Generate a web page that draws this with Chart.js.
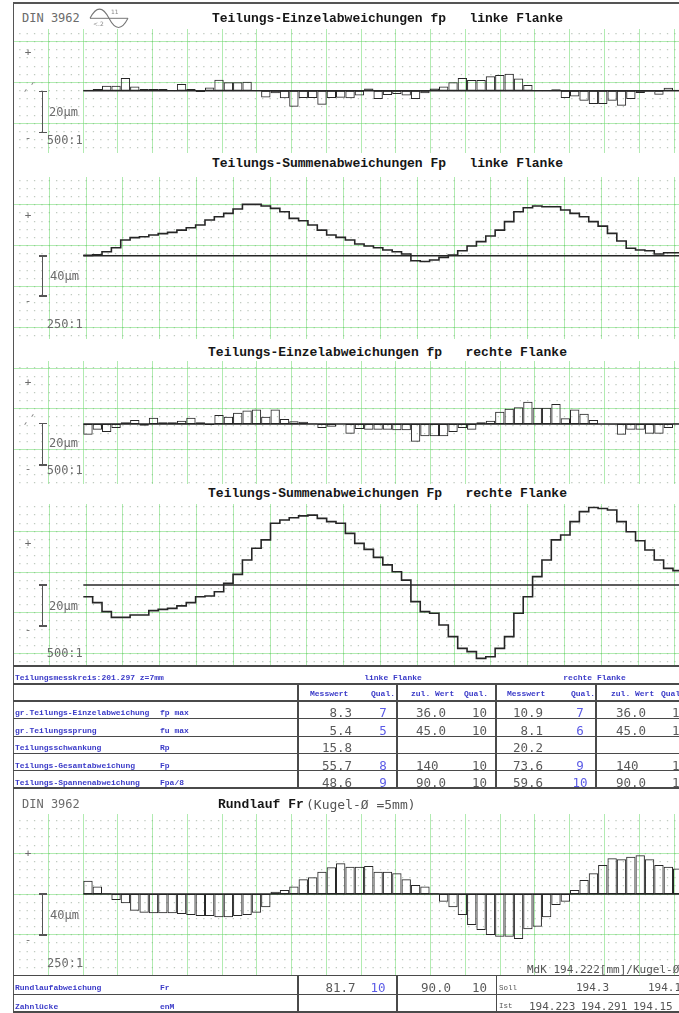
<!DOCTYPE html>
<html lang="de">
<head>
<meta charset="utf-8">
<title>Teilungsmessung DIN 3962</title>
<script src="https://cdn.jsdelivr.net/npm/chart.js@4.4.1/dist/chart.umd.min.js"></script>
<style>
  html, body { margin: 0; padding: 0; background: #fff; }
  body { position: relative; width: 679px; height: 1013px; overflow: hidden; }
  .t { position: absolute; white-space: pre; line-height: 1; }
  .title { font: bold 13px "Liberation Mono", monospace; color: #161616; }
  .gray { font: 12px "DejaVu Sans Mono", monospace; color: #6b6b6b; }
  .sign { font: 11px "DejaVu Sans Mono", monospace; color: #6b6b6b; }
  .lbl { font: bold 8px "Liberation Mono", monospace; color: #3a3ac8; }
  .num { font: 12.5px "DejaVu Sans Mono", monospace; color: #5a5a5a; }
  .q { font: 12.5px "DejaVu Sans Mono", monospace; color: #5b5be6; }
  .sm { font: 11px "DejaVu Sans Mono", monospace; color: #555; }
  .tiny { font: 7.5px "Liberation Mono", monospace; color: #555; }
  .sub { font: 13px "DejaVu Sans Mono", monospace; color: #555; }
  .ln { position: absolute; }
  .panel { position: absolute; }
</style>
</head>
<body>
<script>
// ---- measured values, one entry per tooth (µm) ----
const singlePitchLeft = [
  0.5, 0.8, 2.4, 2.4, 6.2, 2.0, 0.8, 0.8, 0.8, 0.3,
  3.3, 0.8, -0.6, 1.6, 5.4, 4.1, 4.1, 4.4, 0.2, -3.3,
  -1.3, -3.7, -7.8, -3.6, -3.6, -6.8, -3.6, -3.4, -3.7, -2.4,
  1.1, -4.1, -2.1, -1.6, -2.4, -4.1, -1.3, 1.1, 2.1, 4.1,
  6.2, 5.2, 5.2, 7.0, 7.6, 8.3, 6.0, 2.8, -0.2, 0.0,
  0.7, -3.6, -2.8, -4.9, -6.5, -6.5, -4.9, -7.3, -4.1, -1.1,
  -0.5, -2.0, 1.5, 0.5
];
const cumPitchLeft = [
  0.3, 1.0, 3.9, 7.8, 15.3, 17.6, 18.5, 20.2, 21.5, 22.8,
  25.0, 27.3, 29.9, 34.8, 38.0, 41.3, 45.5, 50.1, 50.1, 48.5,
  46.2, 42.9, 36.4, 34.1, 29.9, 25.0, 20.2, 17.9, 15.3, 11.4,
  9.4, 7.8, 5.5, 3.9, 1.6, -4.9, -5.6, -4.2, -1.6, 0.7,
  4.9, 9.4, 13.7, 19.2, 25.0, 33.2, 42.9, 46.8, 48.5, 47.8,
  47.8, 44.6, 41.3, 38.0, 33.2, 28.9, 21.8, 14.3, 7.2, 5.5,
  4.9, 1.6, 2.9, 2.9
];
const singlePitchRight = [
  -5.2, -2.8, -3.9, -1.9, 0.8, 2.0, -0.8, 3.1, 0.8, 0.8,
  1.6, 3.1, 0.8, -0.5, 4.4, 3.5, 5.5, 6.6, 7.1, 3.5,
  7.1, 2.4, 1.3, 1.1, 0.3, -1.9, -1.3, 0.0, -4.7, -2.4,
  -2.8, -2.8, -2.8, -3.1, -3.1, -8.6, -6.0, -6.0, -6.0, -3.9,
  -1.9, -2.8, 0.9, 1.6, 6.0, 7.4, 8.2, 10.9, 7.9, 7.9,
  9.7, 2.8, 7.1, 5.0, 1.9, 0.0, -0.3, -5.2, -2.8, -2.8,
  -4.7, -4.7, -1.9, 0.3
];
const cumPitchRight = [
  -5.7, -8.6, -13.0, -15.8, -15.8, -14.6, -14.6, -12.5, -11.9, -11.4,
  -10.2, -8.6, -5.7, -5.4, -3.3, 0.8, 5.2, 12.2, 17.9, 22.0,
  30.1, 31.7, 32.8, 33.7, 34.1, 32.5, 30.9, 30.1, 25.2, 20.3,
  17.4, 13.5, 9.8, 6.5, 2.4, -8.1, -13.0, -13.8, -19.5, -25.2,
  -30.9, -32.5, -35.8, -35.0, -30.9, -25.2, -13.8, -5.7, 4.1, 12.2,
  22.0, 24.4, 30.9, 35.8, 37.8, 37.3, 36.6, 30.9, 26.0, 21.6,
  17.1, 12.2, 8.1, 7.0
];
const runout = [
  13.0, 7.2, 0.7, -5.9, -9.1, -16.3, -18.2, -18.9, -18.9, -18.9,
  -19.5, -20.5, -21.5, -21.5, -22.8, -22.8, -21.5, -20.5, -18.2, -13.0,
  2.3, 3.9, 7.2, 14.3, 16.3, 21.8, 26.0, 29.9, 26.7, 26.7,
  27.3, 21.8, 21.8, 20.2, 14.3, 8.8, 7.2, 0.7, -7.5, -13.0,
  -20.5, -30.2, -35.1, -40.0, -41.6, -41.6, -43.9, -34.5, -31.9, -22.8,
  -10.7, -7.5, 3.9, 13.7, 20.2, 28.3, 34.8, 33.8, 36.4, 37.8,
  33.8, 28.3, 26.7, 25.0
];

// ---- evaluation table ----
const rowNames = ['gr.Teilungs-Einzelabweichung', 'gr.Teilungssprung', 'Teilungsschwankung',
                  'Teilungs-Gesamtabweichung', 'Teilungs-Spannenabweichung'];
const rowSymbols = ['fp max', 'fu max', 'Rp', 'Fp', 'Fpa/8'];
const leftMeasured = ['8.3', '5.4', '15.8', '55.7', '48.6'];
const leftQuality = ['7', '5', '', '8', '9'];
const leftAllowed = ['36.0', '45.0', '', '140', '90.0'];
const leftAllowedQuality = ['10', '10', '', '10', '10'];
const rightMeasured = ['10.9', '8.1', '20.2', '73.6', '59.6'];
const rightQuality = ['7', '6', '', '9', '10'];
const rightAllowed = ['36.0', '45.0', '', '140', '90.0'];
const rightAllowedQuality = ['10', '10', '', '10', '10'];
const headerCells = ['Messwert', 'Qual.', 'zul. Wert', 'Qual.', 'Messwert', 'Qual.', 'zul. Wert', 'Qual.'];
const runoutCells = ['81.7', '10', '90.0', '10'];
const ballSoll = ['194.3', '194.14'];
const ballIst = ['194.223', '194.291', '194.15'];

// ---- page layout ----
const PAGE_W = 679;
const PLOT_L = 13, PLOT_R = 679;
const TOOTH0_X = 83.3, TOOTH_PITCH = 9.36;
const GRID = { x0: 12.5, dx: 36.8, dy: 40.8, sub: 5 };
const INK = '#262626';

function put(text, x, y, cls, align) {
  const d = document.createElement('div');
  d.className = 't ' + cls;
  d.textContent = text;
  d.style.top = y + 'px';
  if (align === 'r') { d.style.right = (PAGE_W - x) + 'px'; d.style.transform = 'translateY(-50%)'; }
  else if (align === 'c') { d.style.left = x + 'px'; d.style.transform = 'translate(-50%,-50%)'; }
  else { d.style.left = x + 'px'; d.style.transform = 'translateY(-50%)'; }
  document.body.appendChild(d);
}
function box(x, y, w, h, c) {
  const d = document.createElement('div');
  d.className = 'ln';
  Object.assign(d.style, { left: x + 'px', top: y + 'px', width: w + 'px', height: h + 'px', background: c });
  document.body.appendChild(d);
  return d;
}
const hline = (x1, x2, y, w = 1, c = '#4a4a4a') => box(x1, y - w / 2, x2 - x1, w, c);
const vline = (x, y1, y2, w = 1, c = '#4a4a4a') => box(x - w / 2, y1, w, y2 - y1, c);
function scaleBar(y1, y2) {
  vline(42.7, y1, y2, 1.5, '#555');
  hline(39.3, 46.7, y1, 1.5, '#555');
  hline(39.3, 46.7, y2, 1.5, '#555');
}
function tick(x, y) {
  const d = box(x - 1.5, y, 3, 1, '#8a8a8a');
  d.style.transform = 'rotate(-55deg)';
}
function seq(start, step, lo, hi) {
  const out = [];
  for (let k = Math.ceil((lo - start) / step - 1e-9); ; k++) {
    const v = start + k * step;
    if (v > hi + 1e-9) break;
    out.push(v);
  }
  return out;
}

function gridAxis(axis, min, max, values, color, width, dash, dashOffset) {
  return {
    type: 'linear', axis, position: axis === 'x' ? 'bottom' : 'left',
    min, max, reverse: axis === 'y',
    ticks: { display: false },
    border: { display: false, dash: dash || [], dashOffset: dashOffset || 0 },
    grid: { color, lineWidth: width, drawTicks: false, tickLength: 0 },
    afterBuildTicks: s => { s.ticks = values.map(v => ({ value: v })); },
    afterFit: s => { if (axis === 'x') s.height = 0; else s.width = 0; }
  };
}

const barPoints = vals => vals.map((v, i) => ({ x: i + 0.5, y: v }));
const stepPoints = vals => vals.map((v, i) => ({ x: i, y: v })).concat([{ x: vals.length, y: vals[vals.length - 1] }]);
const zeroPoints = vals => [{ x: 0, y: 0 }, { x: vals.length, y: 0 }];

function drawPanel(p) {
  const W = PLOT_R - PLOT_L, H = p.bottom - p.top;
  const wrap = document.createElement('div');
  wrap.className = 'panel';
  Object.assign(wrap.style, { left: PLOT_L + 'px', top: p.top + 'px', width: W + 'px', height: H + 'px' });
  const cv = document.createElement('canvas');
  cv.width = W; cv.height = H;
  cv.style.width = W + 'px'; cv.style.height = H + 'px';
  wrap.appendChild(cv);
  document.body.appendChild(wrap);

  const subX = GRID.dx / GRID.sub, subY = GRID.dy / GRID.sub;
  const firstDot = (((GRID.x0 - PLOT_L) % subX) + subX) % subX;
  const dotLen = 1.3;

  const datasets = [];
  datasets.push({
    type: 'line', data: zeroPoints(p.values), borderColor: INK, borderWidth: 1.4,
    pointRadius: 0, fill: false, order: 0
  });
  if (p.kind === 'bar') {
    datasets.push({
      type: 'bar', data: barPoints(p.values), backgroundColor: 'rgba(255,255,255,0)',
      borderColor: INK, borderWidth: 1, borderSkipped: false, inflateAmount: 0,
      barThickness: TOOTH_PITCH, order: 1
    });
  } else {
    datasets.push({
      type: 'line', data: stepPoints(p.values), stepped: true, borderColor: INK,
      borderWidth: 1.6, pointRadius: 0, fill: false, order: 1
    });
  }

  new Chart(cv.getContext('2d'), {
    type: p.kind === 'bar' ? 'bar' : 'line',
    data: { datasets },
    options: {
      responsive: false, animation: false, devicePixelRatio: 1, events: [],
      layout: { padding: 0 },
      plugins: { legend: { display: false }, tooltip: { enabled: false } },
      scales: {
        x: {
          type: 'linear', display: false, offset: false,
          min: (PLOT_L - TOOTH0_X) / TOOTH_PITCH, max: (PLOT_R - TOOTH0_X) / TOOTH_PITCH
        },
        y: {
          type: 'linear', display: false,
          min: -(p.bottom - p.base) / p.pxPerUm, max: (p.base - p.top) / p.pxPerUm
        },
        dots: gridAxis('y', p.top, p.bottom, seq(p.gridY0, subY, p.top + 1, p.bottom - 1),
          'rgba(130,150,130,0.5)', 1.2, [dotLen, subX - dotLen], subX - (firstDot - dotLen / 2)),
        gx: gridAxis('x', PLOT_L, PLOT_R, seq(GRID.x0, GRID.dx, PLOT_L + 0.5, PLOT_R),
          'rgba(100,215,100,0.5)', 1),
        gy: gridAxis('y', p.top, p.bottom, seq(p.gridY0, GRID.dy, p.top, p.bottom),
          'rgba(100,215,100,0.5)', 1)
      }
    }
  });
}

const panels = [
  { top: 29, bottom: 153, base: 90.7, pxPerUm: 2.05, gridY0: 41.7, kind: 'bar', values: singlePitchLeft },
  { top: 177, bottom: 339, base: 255.7, pxPerUm: 1.025, gridY0: 41.7, kind: 'step', values: cumPitchLeft },
  { top: 361, bottom: 484, base: 424, pxPerUm: 2.05, gridY0: 41.7, kind: 'bar', values: singlePitchRight },
  { top: 504, bottom: 665, base: 585, pxPerUm: 2.05, gridY0: 41.7, kind: 'step', values: cumPitchRight },
  { top: 814, bottom: 975, base: 894, pxPerUm: 1.025, gridY0: 812.5, kind: 'bar', values: runout }
];
panels.forEach(drawPanel);

// ---- frame ----
hline(PLOT_L, PLOT_R, 3, 2, '#555');
vline(13.3, 2, 1013, 1.6, '#555');

// ---- panel headings and scale marks ----
put('DIN 3962', 22, 17.5, 'gray');
const icon = document.createElement('div');
icon.className = 'ln';
Object.assign(icon.style, { left: '88px', top: '6px', width: '42px', height: '24px' });
icon.innerHTML =
  '<svg width="42" height="24" viewBox="0 0 42 24" xmlns="http://www.w3.org/2000/svg">' +
  '<line x1="2" y1="12.3" x2="40" y2="12.3" stroke="#777" stroke-width="1"/>' +
  '<path d="M2 12.3 Q11.5 -6 21 12.3 Q30.5 30.6 40 12.3" fill="none" stroke="#777" stroke-width="1.1"/>' +
  '<text x="23" y="8" font-family="DejaVu Sans" font-size="6" fill="#888">11</text>' +
  '<text x="5" y="19.5" font-family="DejaVu Sans" font-size="6" fill="#888">&lt;.2</text>' +
  '</svg>';
document.body.appendChild(icon);

put('Teilungs-Einzelabweichungen fp   linke Flanke', 387.5, 18, 'title', 'c');
put('+', 28, 51.7, 'sign', 'c');
tick(32.7, 83.3); tick(25, 90);
scaleBar(91.7, 132.7);
put('20µm', 49, 111.7, 'gray');
put('-', 28, 136.7, 'sign', 'c');
put('500:1', 46.7, 140, 'gray');

put('Teilungs-Summenabweichungen Fp   linke Flanke', 387.5, 163, 'title', 'c');
put('+', 28, 215, 'sign', 'c');
scaleBar(256, 296);
put('40µm', 50, 276, 'gray');
put('-', 28, 300, 'sign', 'c');
put('250:1', 46.7, 324, 'gray');

put('Teilungs-Einzelabweichungen fp   rechte Flanke', 387.5, 351.5, 'title', 'c');
put('+', 28, 382, 'sign', 'c');
tick(32.7, 415); tick(25, 423);
scaleBar(423.5, 465);
put('20µm', 49, 443, 'gray');
put('-', 28, 468, 'sign', 'c');
put('500:1', 46.7, 470, 'gray');

put('Teilungs-Summenabweichungen Fp   rechte Flanke', 387.5, 492.5, 'title', 'c');
put('+', 28, 543, 'sign', 'c');
scaleBar(585, 626);
put('20µm', 49, 606, 'gray');
put('-', 28, 629, 'sign', 'c');
put('500:1', 46.7, 653, 'gray');

// ---- pitch evaluation table ----
hline(PLOT_L, PLOT_R, 666, 2, '#4a4a4a');
hline(PLOT_L, PLOT_R, 684, 1.4);
hline(PLOT_L, PLOT_R, 701, 1.4);
[718.5, 736, 753, 770.5].forEach(y => hline(PLOT_L, PLOT_R, y, 1));
hline(PLOT_L, PLOT_R, 788, 2, '#4a4a4a');
[298, 397, 496, 596].forEach(x => vline(x, 684, 788, 1.4));

put('Teilungsmesskreis:201.297 z=7mm', 15, 677, 'lbl');
put('linke Flanke', 393, 677, 'lbl', 'c');
put('rechte Flanke', 594.5, 677, 'lbl', 'c');
const headerX = [310, 371, 411, 464, 507, 571, 611, 661];
headerCells.forEach((h, i) => put(h, headerX[i], 693, 'lbl'));

const rowY = [712, 729.5, 747, 765, 781.5];
rowNames.forEach((name, r) => {
  const y = rowY[r];
  put(name, 15, y, 'lbl');
  put(rowSymbols[r], 160, y, 'lbl');
  put(leftMeasured[r], 352, y, 'num', 'r');
  put(leftQuality[r], 383, y, 'q', 'c');
  put(leftAllowed[r], 416, y, 'num');
  put(leftAllowedQuality[r], 472, y, 'num');
  put(rightMeasured[r], 543, y, 'num', 'r');
  put(rightQuality[r], 580, y, 'q', 'c');
  put(rightAllowed[r], 616, y, 'num');
  put(rightAllowedQuality[r], 672, y, 'num');
});

// ---- runout panel ----
put('DIN 3962', 22, 804, 'gray');
put('Rundlauf Fr', 218, 804, 'title');
put('(Kugel-Ø =5mm)', 306, 803.5, 'sub');
put('+', 28, 853, 'sign', 'c');
scaleBar(894, 935);
put('40µm', 50, 915, 'gray');
put('-', 28, 939, 'sign', 'c');
put('250:1', 47, 963, 'gray');
put('MdK 194.222[mm]/Kugel-Ø', 527, 969, 'sm');

hline(PLOT_L, PLOT_R, 975.7, 1.5);
hline(PLOT_L, PLOT_R, 994.3, 1);
hline(PLOT_L, PLOT_R, 1012, 1.5);
[298, 397, 496.5].forEach(x => vline(x, 975.7, 1012, 1.4));

put('Rundlaufabweichung', 15, 986.7, 'lbl');
put('Fr', 160, 986.7, 'lbl');
put('Zahnlücke', 15, 1005.5, 'lbl');
put('enM', 160, 1005.5, 'lbl');
put(runoutCells[0], 355.5, 986.7, 'num', 'r');
put(runoutCells[1], 378, 986.7, 'q', 'c');
put(runoutCells[2], 451, 986.7, 'num', 'r');
put(runoutCells[3], 472, 986.7, 'num');
put('Soll', 499, 987.5, 'tiny');
put(ballSoll[0], 576, 986.5, 'sm');
put(ballSoll[1], 648, 986.5, 'sm');
put('Ist', 499, 1006, 'tiny');
[529, 581, 633].forEach((x, i) => put(ballIst[i], x, 1005.5, 'sm'));
</script>
</body>
</html>
